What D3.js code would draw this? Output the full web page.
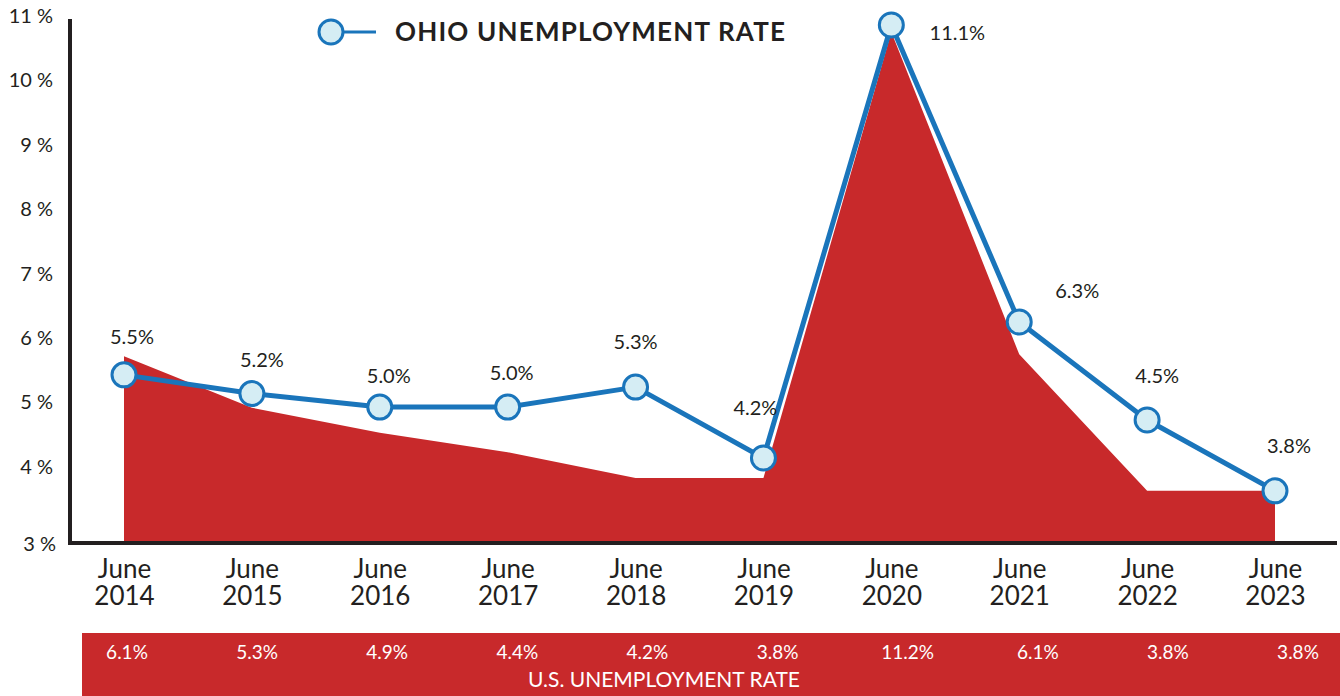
<!DOCTYPE html>
<html>
<head>
<meta charset="utf-8">
<script src="https://cdn.jsdelivr.net/npm/d3@7"></script>
<style>
  body { margin: 0; background: #fff; }
  svg { display: block; font-family: Lato, "Open Sans", sans-serif; }
</style>
</head>
<body>
<div id="chart"></div>
<script>
// years on the x axis
let years = ["2014", "2015", "2016", "2017", "2018", "2019", "2020", "2021", "2022", "2023"]

// Ohio rate as plotted (read from the point positions) and its printed labels
let ohioRate = [5.43, 5.14, 4.93, 4.93, 5.24, 4.14, 10.86, 6.25, 4.73, 3.63]
let ohioLabels = ["5.5%", "5.2%", "5.0%", "5.0%", "5.3%", "4.2%", "11.1%", "6.3%", "4.5%", "3.8%"]

// U.S. rate as drawn by the red area, and the printed values in the band
let usRate = [5.72, 4.92, 4.53, 4.23, 3.83, 3.83, 10.75, 5.75, 3.63, 3.63]
let usLabels = ["6.1%", "5.3%", "4.9%", "4.4%", "4.2%", "3.8%", "11.2%", "6.1%", "3.8%", "3.8%"]

let yTicks = [3, 4, 5, 6, 7, 8, 9, 10, 11]

let width = 1340,
    height = 696

let svg = d3.select("#chart")
    .append("svg")
    .attr("width", width)
    .attr("height", height)

let axisX = 70,
    baseY = 543

// scales
let x = d3.scalePoint()
    .domain(years)
    .range([124, 1275])

let y = d3.scaleLinear()
    .domain([4, 11])
    .range([467, 16])

// red U.S. area
let area = d3.area()
    .x((d, i) => x(years[i]))
    .y0(baseY)
    .y1((d) => y(d))

svg.append("path")
    .datum(usRate)
    .attr("d", area)
    .attr("fill", "#c8292b")

// y axis labels
let yAxis = svg.append("g")
    .attr("transform", "translate(" + (axisX - 14) + ",0)")
    .call(d3.axisLeft(y).tickValues(yTicks.filter((d) => d > 3)).tickSize(0).tickFormat((d) => d + " %"))
yAxis.select(".domain").remove()
yAxis.selectAll("text")
    .style("font-family", "Lato, sans-serif")
    .style("font-size", "20px")
    .attr("fill", "#231f20")

// 3 % sits on the baseline
svg.append("text")
    .attr("x", axisX - 14)
    .attr("y", baseY + 2)
    .attr("dy", "0.32em")
    .attr("text-anchor", "end")
    .style("font-size", "20px")
    .attr("fill", "#231f20")
    .text(yTicks[0] + " %")

// axis lines
svg.append("line")
    .attr("x1", axisX).attr("x2", axisX)
    .attr("y1", 19).attr("y2", baseY + 2)
    .attr("stroke", "#231f20")
    .attr("stroke-width", 4)
svg.append("line")
    .attr("x1", axisX - 2).attr("x2", 1337)
    .attr("y1", baseY).attr("y2", baseY)
    .attr("stroke", "#231f20")
    .attr("stroke-width", 4)

// x axis labels, two lines each
let xAxis = svg.append("g")
    .attr("transform", "translate(0," + baseY + ")")
    .call(d3.axisBottom(x).tickSize(0).tickFormat(""))
xAxis.select(".domain").remove()
xAxis.selectAll(".tick").append("text")
    .attr("fill", "#231f20")
    .attr("text-anchor", "middle")
    .style("font-size", "26px")
    .style("font-family", "Lato, sans-serif")
    .selectAll("tspan")
    .data((d) => ["June", d])
    .enter()
    .append("tspan")
    .attr("x", 0)
    .attr("y", (d, i) => 35 + i * 27)
    .text((d) => d)

// Ohio line
let line = d3.line()
    .x((d, i) => x(years[i]))
    .y((d) => y(d))

svg.append("path")
    .datum(ohioRate)
    .attr("d", line)
    .attr("fill", "none")
    .attr("stroke", "#1a75bb")
    .attr("stroke-width", 5)
    .attr("stroke-linejoin", "round")

svg.selectAll("ohioDots")
    .data(ohioRate)
    .enter()
    .append("circle")
    .attr("cx", (d, i) => x(years[i]))
    .attr("cy", (d) => y(d))
    .attr("r", 12)
    .attr("fill", "#d5edf4")
    .attr("stroke", "#1a75bb")
    .attr("stroke-width", 3)

// label offsets relative to each point
let labelShift = [[8, -38], [10, -34], [9, -31], [4, -34], [0, -45], [-8, -50], [66, 8], [58, -31], [10, -44], [14, -45]]

svg.selectAll("ohioLabels")
    .data(ohioLabels)
    .enter()
    .append("text")
    .attr("x", (d, i) => x(years[i]) + labelShift[i][0])
    .attr("y", (d, i) => y(ohioRate[i]) + labelShift[i][1])
    .attr("dy", "0.35em")
    .attr("text-anchor", "middle")
    .style("font-size", "20px")
    .attr("fill", "#231f20")
    .text((d) => d)

// legend
let legend = svg.append("g")
legend.append("line")
    .attr("x1", 331).attr("x2", 376)
    .attr("y1", 32).attr("y2", 32)
    .attr("stroke", "#1a75bb")
    .attr("stroke-width", 3)
legend.append("circle")
    .attr("cx", 331).attr("cy", 32)
    .attr("r", 12)
    .attr("fill", "#d5edf4")
    .attr("stroke", "#1a75bb")
    .attr("stroke-width", 3)
legend.append("text")
    .attr("x", 395)
    .attr("y", 32)
    .attr("dy", "0.36em")
    .style("font-size", "26px")
    .style("font-weight", "bold")
    .style("letter-spacing", "1.2px")
    .attr("fill", "#231f20")
    .text("OHIO UNEMPLOYMENT RATE")

// U.S. band at the bottom
let xBand = d3.scalePoint()
    .domain(years)
    .range([127, 1298])

svg.append("rect")
    .attr("x", 82)
    .attr("y", 633)
    .attr("width", width - 82)
    .attr("height", height - 633)
    .attr("fill", "#c8292b")

svg.selectAll("usLabels")
    .data(usLabels)
    .enter()
    .append("text")
    .attr("x", (d, i) => xBand(years[i]))
    .attr("y", 652)
    .attr("dy", "0.35em")
    .attr("text-anchor", "middle")
    .style("font-size", "19px")
    .attr("fill", "#fff")
    .text((d) => d)

svg.append("text")
    .attr("x", 664)
    .attr("y", 680)
    .attr("dy", "0.35em")
    .attr("text-anchor", "middle")
    .style("font-size", "21px")
    .attr("fill", "#fff")
    .text("U.S. UNEMPLOYMENT RATE")
</script>
</body>
</html>
